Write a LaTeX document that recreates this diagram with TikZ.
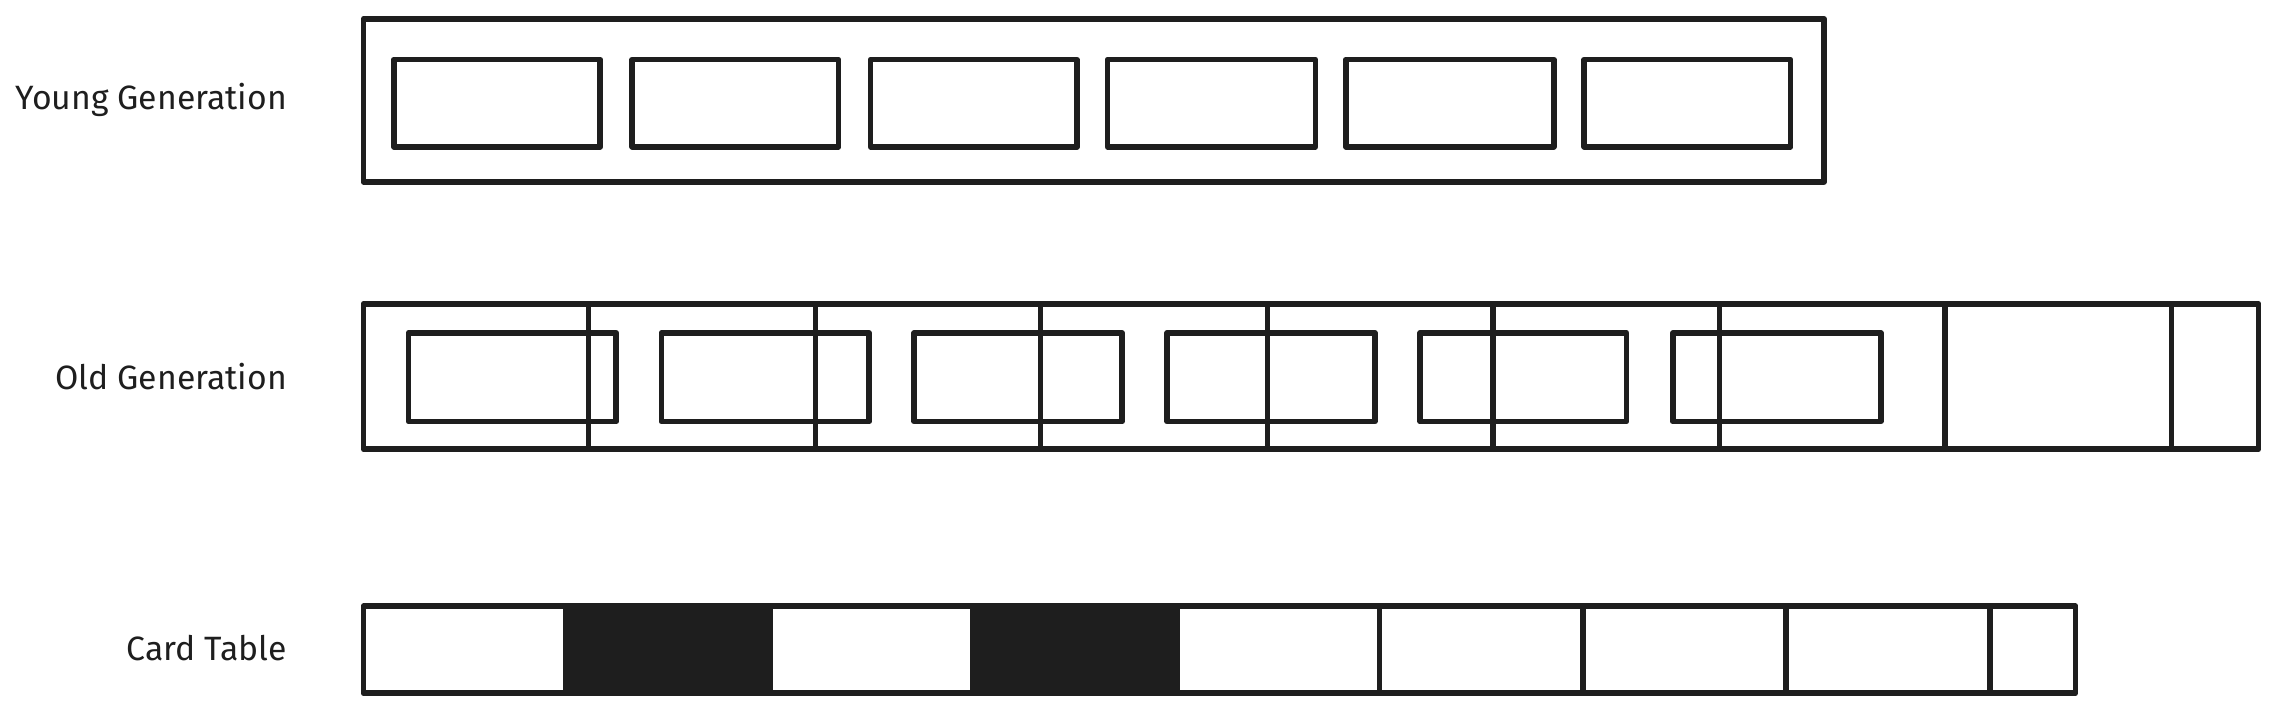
\documentclass[tikz,border=0pt]{standalone}
\usepackage{fontspec}
\setmainfont{Fira Sans}
\definecolor{ink}{HTML}{1E1E1E}
\begin{document}
\begin{tikzpicture}[x=0.01cm,y=-0.01cm,
  box/.style={draw=ink,line width=1.1pt,line join=round},
  fillbox/.style={box,fill=ink},
  lbl/.style={anchor=east,text=ink,font=\fontsize{6.6}{7.5}\selectfont,inner sep=0pt}]
\useasboundingbox (0,0) rectangle (1568,490);
% labels
\node[lbl] (ly) at (198,69) {Young Generation};
\node[lbl] (lo) at (198,259) {Old Generation};
\node[lbl] (lc) at (198,446) {Card Table};
% young generation
\draw[box] (250,13) rectangle (1255,125);
\foreach \a/\b in {271/413,435/577,599/741,762/905,926/1069,1090/1232}
  \draw[box] (\a,41) rectangle (\b,101);
% old generation cells
\foreach \a/\b in {250/405,405/561,561/716,716/872,872/1027,1027/1183,1183/1338,1338/1494,1494/1554}
  \draw[box] (\a,209) rectangle (\b,309);
\foreach \a/\b in {281/424,455/598,629/772,803/946,977/1119,1151/1294}
  \draw[box] (\a,229) rectangle (\b,290);
% card table
\foreach \a/\b in {250/389,530/669,810/949,949/1089,1089/1229,1229/1369,1369/1428}
  \draw[box] (\a,417) rectangle (\b,477);
\foreach \a/\b in {389/530,669/810}
  \draw[fillbox] (\a,417) rectangle (\b,477);
\end{tikzpicture}
\end{document}
